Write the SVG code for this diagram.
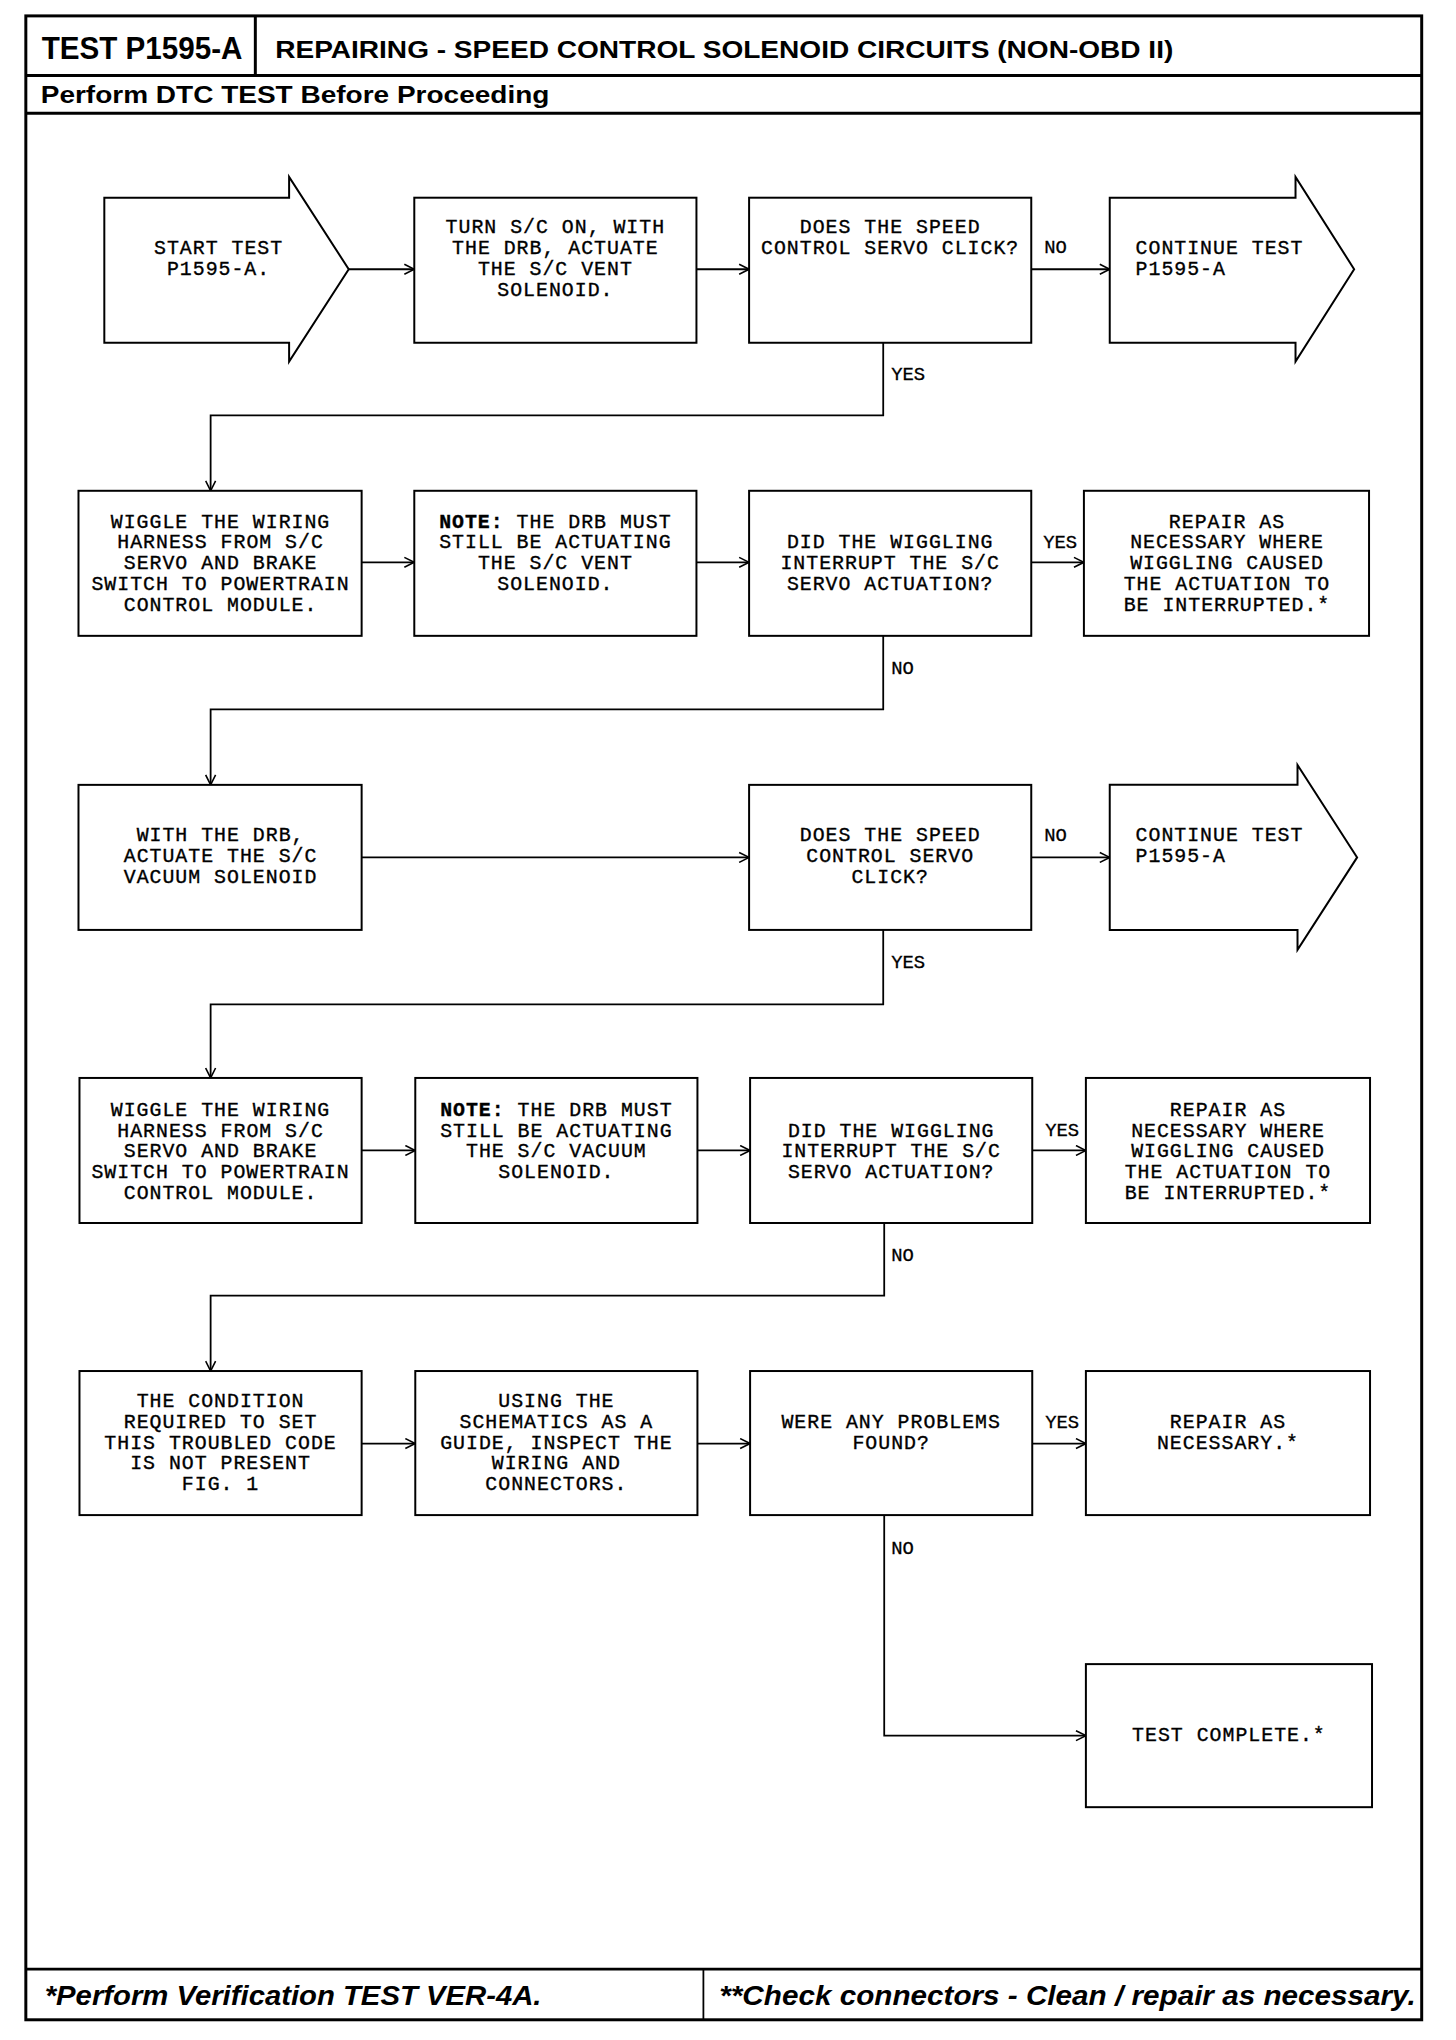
<svg xmlns="http://www.w3.org/2000/svg" width="1456" height="2040" viewBox="0 0 1456 2040">
<style>
.frame{fill:none;stroke:#000;stroke-width:3}
.box{fill:#fff;stroke:#000;stroke-width:2}
.ln{fill:none;stroke:#000;stroke-width:1.8}
.t{font-family:"Liberation Mono","DejaVu Sans Mono",monospace;font-size:20px;letter-spacing:1px;fill:#000;stroke:#000;stroke-width:0.35px;text-anchor:middle}
.tl{font-family:"Liberation Mono","DejaVu Sans Mono",monospace;font-size:20px;letter-spacing:1px;fill:#000;stroke:#000;stroke-width:0.35px}
.lab{font-family:"Liberation Mono","DejaVu Sans Mono",monospace;font-size:19px;fill:#000;stroke:#000;stroke-width:0.3px}
.h{font-family:"Liberation Sans",Arial,sans-serif;font-weight:bold;fill:#000}
.f{font-family:"Liberation Sans",Arial,sans-serif;font-weight:bold;font-style:italic;fill:#000}
</style>
<defs>
<marker id="ar" viewBox="0 0 12 12" refX="11" refY="6" markerWidth="12" markerHeight="12" markerUnits="userSpaceOnUse" orient="auto">
<path d="M1,1 L11,6 L1,11" fill="none" stroke="#000" stroke-width="1.6"/>
</marker>
</defs>
<rect width="1456" height="2040" fill="#fff"/>
<g transform="scale(0.9935)">
<g id="frame">
<rect class="frame" x="26" y="16" width="1405" height="2017"/>
<line class="frame" x1="26" y1="76" x2="1431" y2="76"/>
<line class="frame" x1="26" y1="114" x2="1431" y2="114"/>
<line class="frame" x1="257" y1="16" x2="257" y2="76"/>
<line class="frame" x1="26" y1="1982" x2="1431" y2="1982"/>
<line class="ln" x1="708" y1="1982" x2="708" y2="2033"/>
<text class="h" x="42" y="59" font-size="31" textLength="202" lengthAdjust="spacingAndGlyphs">TEST P1595-A</text>
<text class="h" x="277" y="58" font-size="25" textLength="904" lengthAdjust="spacingAndGlyphs">REPAIRING - SPEED CONTROL SOLENOID CIRCUITS (NON-OBD II)</text>
<text class="h" x="41" y="104" font-size="24" textLength="512" lengthAdjust="spacingAndGlyphs">Perform DTC TEST Before Proceeding</text>
<text class="f" x="45" y="2018" font-size="28" textLength="500" lengthAdjust="spacingAndGlyphs">*Perform Verification TEST VER-4A.</text>
<text class="f" x="724" y="2018" font-size="28" textLength="701" lengthAdjust="spacingAndGlyphs">**Check connectors - Clean / repair as necessary.</text>
</g>
<g id="connectors">
<line class="ln" x1="351" y1="271" x2="417" y2="271" marker-end="url(#ar)"/>
<line class="ln" x1="701" y1="271" x2="754" y2="271" marker-end="url(#ar)"/>
<line class="ln" x1="1038" y1="271" x2="1117" y2="271" marker-end="url(#ar)"/>
<polyline class="ln" points="889,345 889,418 212,418 212,494" marker-end="url(#ar)"/>
<line class="ln" x1="364" y1="566" x2="417" y2="566" marker-end="url(#ar)"/>
<line class="ln" x1="701" y1="566" x2="754" y2="566" marker-end="url(#ar)"/>
<line class="ln" x1="1038" y1="566" x2="1091" y2="566" marker-end="url(#ar)"/>
<polyline class="ln" points="889,640 889,714 212,714 212,790" marker-end="url(#ar)"/>
<line class="ln" x1="364" y1="863" x2="754" y2="863" marker-end="url(#ar)"/>
<line class="ln" x1="1038" y1="863" x2="1117" y2="863" marker-end="url(#ar)"/>
<polyline class="ln" points="889,936 889,1011 212,1011 212,1085" marker-end="url(#ar)"/>
<line class="ln" x1="364" y1="1158" x2="418" y2="1158" marker-end="url(#ar)"/>
<line class="ln" x1="702" y1="1158" x2="755" y2="1158" marker-end="url(#ar)"/>
<line class="ln" x1="1039" y1="1158" x2="1093" y2="1158" marker-end="url(#ar)"/>
<polyline class="ln" points="890,1231 890,1304 212,1304 212,1380" marker-end="url(#ar)"/>
<line class="ln" x1="364" y1="1453" x2="418" y2="1453" marker-end="url(#ar)"/>
<line class="ln" x1="702" y1="1453" x2="755" y2="1453" marker-end="url(#ar)"/>
<line class="ln" x1="1039" y1="1453" x2="1093" y2="1453" marker-end="url(#ar)"/>
<polyline class="ln" points="890,1525 890,1747 1093,1747" marker-end="url(#ar)"/>
<text class="lab" x="1051" y="255">NO</text>
<text class="lab" x="897" y="382">YES</text>
<text class="lab" x="1050" y="552">YES</text>
<text class="lab" x="897" y="678">NO</text>
<text class="lab" x="1051" y="847">NO</text>
<text class="lab" x="897" y="974">YES</text>
<text class="lab" x="1052" y="1143">YES</text>
<text class="lab" x="897" y="1269">NO</text>
<text class="lab" x="1052" y="1437">YES</text>
<text class="lab" x="897" y="1564">NO</text>
</g>
<g id="start">
<polygon class="box" points="105,199 291,199 291,178 351,271 291,364 291,345 105,345"/>
<text class="t" x="220" y="256">START TEST</text>
<text class="t" x="220" y="277">P1595-A.</text>
</g>
<g id="turn">
<rect class="box" x="417" y="199" width="284" height="146"/>
<text class="t" x="559" y="235">TURN S/C ON, WITH</text>
<text class="t" x="559" y="256">THE DRB, ACTUATE</text>
<text class="t" x="559" y="277">THE S/C VENT</text>
<text class="t" x="559" y="298">SOLENOID.</text>
</g>
<g id="does1">
<rect class="box" x="754" y="199" width="284" height="146"/>
<text class="t" x="896" y="235">DOES THE SPEED</text>
<text class="t" x="896" y="256">CONTROL SERVO CLICK?</text>
</g>
<g id="continue1">
<polygon class="box" points="1117,199 1304,199 1304,178 1363,271 1304,364 1304,345 1117,345"/>
<text class="tl" x="1143" y="256">CONTINUE TEST</text>
<text class="tl" x="1143" y="277">P1595-A</text>
</g>
<g id="wiggle1">
<rect class="box" x="79" y="494" width="285" height="146"/>
<text class="t" x="222" y="531">WIGGLE THE WIRING</text>
<text class="t" x="222" y="552">HARNESS FROM S/C</text>
<text class="t" x="222" y="573">SERVO AND BRAKE</text>
<text class="t" x="222" y="594">SWITCH TO POWERTRAIN</text>
<text class="t" x="222" y="615">CONTROL MODULE.</text>
</g>
<g id="note1">
<rect class="box" x="417" y="494" width="284" height="146"/>
<text class="t" x="559" y="531"><tspan font-weight="bold">NOTE:</tspan> THE DRB MUST</text>
<text class="t" x="559" y="552">STILL BE ACTUATING</text>
<text class="t" x="559" y="573">THE S/C VENT</text>
<text class="t" x="559" y="594">SOLENOID.</text>
</g>
<g id="did1">
<rect class="box" x="754" y="494" width="284" height="146"/>
<text class="t" x="896" y="552">DID THE WIGGLING</text>
<text class="t" x="896" y="573">INTERRUPT THE S/C</text>
<text class="t" x="896" y="594">SERVO ACTUATION?</text>
</g>
<g id="repair1">
<rect class="box" x="1091" y="494" width="287" height="146"/>
<text class="t" x="1235" y="531">REPAIR AS</text>
<text class="t" x="1235" y="552">NECESSARY WHERE</text>
<text class="t" x="1235" y="573">WIGGLING CAUSED</text>
<text class="t" x="1235" y="594">THE ACTUATION TO</text>
<text class="t" x="1235" y="615">BE INTERRUPTED.*</text>
</g>
<g id="with">
<rect class="box" x="79" y="790" width="285" height="146"/>
<text class="t" x="222" y="847">WITH THE DRB,</text>
<text class="t" x="222" y="868">ACTUATE THE S/C</text>
<text class="t" x="222" y="889">VACUUM SOLENOID</text>
</g>
<g id="does2">
<rect class="box" x="754" y="790" width="284" height="146"/>
<text class="t" x="896" y="847">DOES THE SPEED</text>
<text class="t" x="896" y="868">CONTROL SERVO</text>
<text class="t" x="896" y="889">CLICK?</text>
</g>
<g id="continue2">
<polygon class="box" points="1117,790 1306,790 1306,770 1366,863 1306,956 1306,936 1117,936"/>
<text class="tl" x="1143" y="847">CONTINUE TEST</text>
<text class="tl" x="1143" y="868">P1595-A</text>
</g>
<g id="wiggle2">
<rect class="box" x="80" y="1085" width="284" height="146"/>
<text class="t" x="222" y="1123">WIGGLE THE WIRING</text>
<text class="t" x="222" y="1144">HARNESS FROM S/C</text>
<text class="t" x="222" y="1165">SERVO AND BRAKE</text>
<text class="t" x="222" y="1186">SWITCH TO POWERTRAIN</text>
<text class="t" x="222" y="1207">CONTROL MODULE.</text>
</g>
<g id="note2">
<rect class="box" x="418" y="1085" width="284" height="146"/>
<text class="t" x="560" y="1123"><tspan font-weight="bold">NOTE:</tspan> THE DRB MUST</text>
<text class="t" x="560" y="1144">STILL BE ACTUATING</text>
<text class="t" x="560" y="1165">THE S/C VACUUM</text>
<text class="t" x="560" y="1186">SOLENOID.</text>
</g>
<g id="did2">
<rect class="box" x="755" y="1085" width="284" height="146"/>
<text class="t" x="897" y="1144">DID THE WIGGLING</text>
<text class="t" x="897" y="1165">INTERRUPT THE S/C</text>
<text class="t" x="897" y="1186">SERVO ACTUATION?</text>
</g>
<g id="repair2">
<rect class="box" x="1093" y="1085" width="286" height="146"/>
<text class="t" x="1236" y="1123">REPAIR AS</text>
<text class="t" x="1236" y="1144">NECESSARY WHERE</text>
<text class="t" x="1236" y="1165">WIGGLING CAUSED</text>
<text class="t" x="1236" y="1186">THE ACTUATION TO</text>
<text class="t" x="1236" y="1207">BE INTERRUPTED.*</text>
</g>
<g id="condition">
<rect class="box" x="80" y="1380" width="284" height="145"/>
<text class="t" x="222" y="1416">THE CONDITION</text>
<text class="t" x="222" y="1437">REQUIRED TO SET</text>
<text class="t" x="222" y="1458">THIS TROUBLED CODE</text>
<text class="t" x="222" y="1479">IS NOT PRESENT</text>
<text class="t" x="222" y="1500">FIG. 1</text>
</g>
<g id="using">
<rect class="box" x="418" y="1380" width="284" height="145"/>
<text class="t" x="560" y="1416">USING THE</text>
<text class="t" x="560" y="1437">SCHEMATICS AS A</text>
<text class="t" x="560" y="1458">GUIDE, INSPECT THE</text>
<text class="t" x="560" y="1479">WIRING AND</text>
<text class="t" x="560" y="1500">CONNECTORS.</text>
</g>
<g id="were">
<rect class="box" x="755" y="1380" width="284" height="145"/>
<text class="t" x="897" y="1437">WERE ANY PROBLEMS</text>
<text class="t" x="897" y="1458">FOUND?</text>
</g>
<g id="repair3">
<rect class="box" x="1093" y="1380" width="286" height="145"/>
<text class="t" x="1236" y="1437">REPAIR AS</text>
<text class="t" x="1236" y="1458">NECESSARY.*</text>
</g>
<g id="complete">
<rect class="box" x="1093" y="1675" width="288" height="144"/>
<text class="t" x="1237" y="1752">TEST COMPLETE.*</text>
</g>
</g>
</svg>
